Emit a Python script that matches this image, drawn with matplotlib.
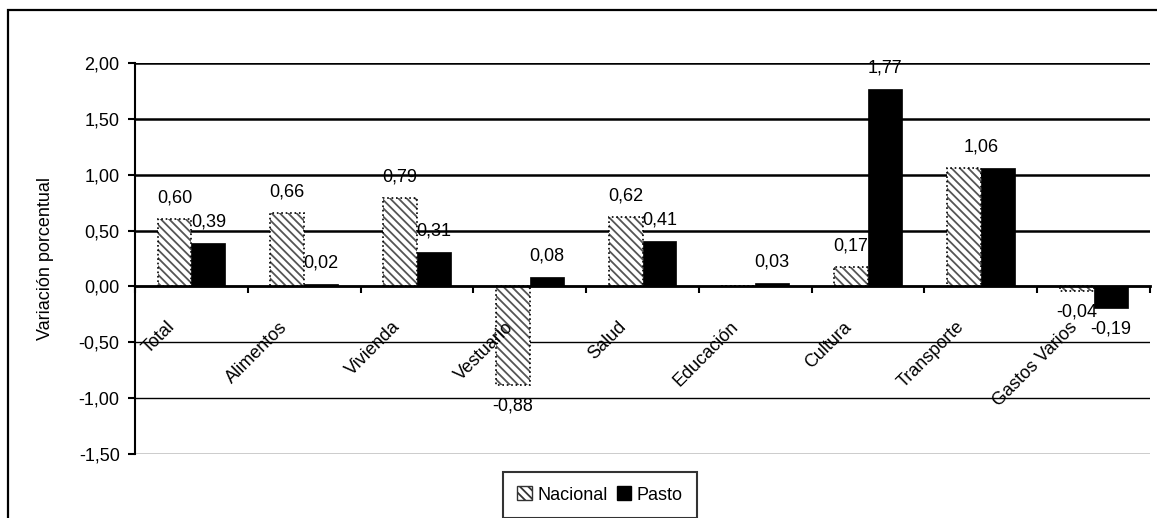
import matplotlib.pyplot as plt
import numpy as np
from matplotlib.patches import Rectangle, Patch
from matplotlib.transforms import ScaledTranslation

plt.rcParams['font.family'] = ['Liberation Sans', 'DejaVu Sans']
plt.rcParams['hatch.linewidth'] = 1.3

categorias = ["Total", "Alimentos", "Vivienda", "Vestuario", "Salud",
              "Educación", "Cultura", "Transporte", "Gastos Varios"]
nacional = [0.60, 0.66, 0.79, -0.88, 0.62, np.nan, 0.17, 1.06, -0.04]
pasto = [0.39, 0.02, 0.31, 0.08, 0.41, 0.03, 1.77, 1.06, -0.19]

def fmt(v):
    return ("%.2f" % v).replace(".", ",")

fig = plt.figure(figsize=(11.57, 5.18), dpi=100)
ax = fig.add_axes([0.1167, 0.1236, 0.8773, 0.7548])

# marco exterior
fig.patches.append(Rectangle((8 / 1157, -0.1), 1.2, 1 - 10 / 518 + 0.1,
                             transform=fig.transFigure, fill=False,
                             edgecolor='black', linewidth=1.6))

ax.spines['bottom'].set_position(('data', 0))
ax.spines['bottom'].set_linewidth(2)
ax.spines['bottom'].set_zorder(6)
ax.spines['left'].set_linewidth(1.5)
ax.spines['top'].set_visible(False)
ax.spines['right'].set_visible(False)

x = np.arange(len(categorias))
w = 0.3
nac = np.array(nacional)
pas = np.array(pasto)

ax.bar(x - w / 2, np.nan_to_num(nac), w, color='white', edgecolor='#555555',
       hatch='\\\\\\\\', linewidth=0, zorder=3)
ax.bar(x - w / 2, np.nan_to_num(nac), w, color='none', edgecolor='black',
       linestyle=':', linewidth=1.2, zorder=4)
ax.bar(x + w / 2, pas, w, color='black', edgecolor='black', linewidth=0.5, zorder=3)

# etiquetas de datos
def etiqueta(xv, v):
    if v >= 0:
        ax.annotate(fmt(v), (xv, v), xytext=(0, 9), textcoords='offset points',
                    ha='center', va='bottom', fontsize=13, zorder=5)
    else:
        ax.annotate(fmt(v), (xv, v), xytext=(0, -9), textcoords='offset points',
                    ha='center', va='top', fontsize=13, zorder=5)

for i in range(len(categorias)):
    if nac[i] == pas[i]:
        # las dos etiquetas coinciden: se ve una sola
        etiqueta(x[i], pas[i])
        continue
    if not np.isnan(nac[i]):
        etiqueta(x[i] - w / 2, nac[i])
    etiqueta(x[i] + w / 2, pas[i])

ax.set_xlim(-0.5, len(categorias) - 0.5)
ax.set_ylim(-1.5, 2.0)
yt = np.arange(-1.5, 2.01, 0.5)
ax.set_yticks(yt)
ax.set_yticklabels([fmt(t) for t in yt], fontsize=13)
ax.tick_params(axis='y', direction='out', length=5, width=1.5, pad=6)

ax.set_xticks(x)
ax.set_xticklabels(categorias, rotation=45, ha='right', va='top',
                   rotation_mode='anchor', fontsize=13)
ax.tick_params(axis='x', which='major', length=0, pad=23)
ax.set_xticks(np.arange(-0.5, len(categorias), 1.0), minor=True)
ax.tick_params(axis='x', which='minor', direction='out', length=5, width=1.5)
desplaza = ScaledTranslation(-0.25, 0, fig.dpi_scale_trans)
for lab in ax.get_xticklabels():
    lab.set_transform(lab.get_transform() + desplaza)

ax.yaxis.grid(True, color='black')
for t, gl in zip(ax.get_yticks(), ax.get_ygridlines()):
    gl.set_linewidth(1.8 if t > 0 else 1.0)
ax.set_axisbelow(True)
ax.xaxis.set_zorder(7)

ax.set_ylabel("Variación porcentual", fontsize=13, labelpad=18)

handles = [Patch(facecolor='white', edgecolor='#333333', hatch='\\\\\\\\'),
           Patch(facecolor='black', edgecolor='black')]
leg = fig.legend(handles, ["Nacional", "Pasto"], loc='center',
                 bbox_to_anchor=(0.5186, 0.0444), ncol=2, fontsize=13,
                 frameon=True, fancybox=False, handlelength=0.8, handleheight=0.8,
                 handletextpad=0.3, columnspacing=0.5, borderpad=0.8)
leg.get_frame().set_edgecolor('black')
leg.get_frame().set_linewidth(1.5)

fig.savefig("out.png", dpi=100)
